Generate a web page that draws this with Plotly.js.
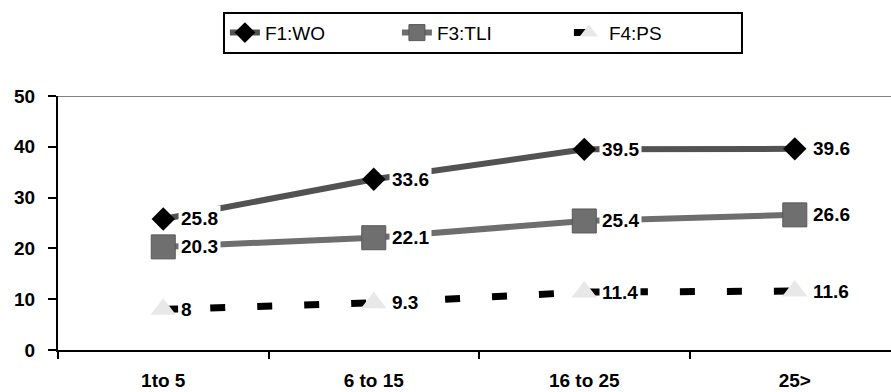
<!DOCTYPE html>
<html>
<head>
<meta charset="utf-8">
<script src="https://cdn.plot.ly/plotly-3.0.1.min.js"></script>
<style>
  html, body { margin: 0; padding: 0; background: #fff; }
  #chart { width: 891px; height: 392px; }
</style>
</head>
<body>
<div id="chart"></div>
<script>
// Age bands (years) on the category axis
const categories = ['1to 5', '6 to 15', '16 to 25', '25>'];

// Factor scores per age band
const seriesNames = ['F1:WO', 'F3:TLI', 'F4:PS'];
const wo  = [25.8, 33.6, 39.5, 39.6];
const tli = [20.3, 22.1, 25.4, 26.6];
const ps  = [8, 9.3, 11.4, 11.6];

const yTicks = [0, 10, 20, 30, 40, 50];

const traces = [
  {
    name: seriesNames[0], x: categories, y: wo, type: 'scatter', mode: 'lines+markers',
    line: { color: '#525252', width: 6 },
    marker: { symbol: 'diamond', size: 18, color: '#000', line: { width: 0 } }
  },
  {
    name: seriesNames[1], x: categories, y: tli, type: 'scatter', mode: 'lines+markers',
    line: { color: '#6e6e6e', width: 6 },
    marker: { symbol: 'square', size: 24, color: '#6f6f6f', line: { color: '#585858', width: 1 } }
  },
  {
    name: seriesNames[2], x: categories, y: ps, type: 'scatter', mode: 'lines+markers',
    line: { color: '#000', width: 7, dash: '15px,32px' },
    marker: { symbol: 'triangle-up', size: 22, color: '#e8e8e8', line: { width: 0 } }
  }
];

// Value labels sit right of each point on a white box, which hides the line behind them
const labelFont = { family: 'Liberation Sans, Arial, sans-serif', size: 19, color: '#000', weight: 'bold' };
const annotations = [];
[wo, tli, ps].forEach(vals => {
  vals.forEach((v, i) => {
    annotations.push({
      x: categories[i], y: v, xref: 'x', yref: 'y',
      text: '<b>' + v + '</b>', showarrow: false,
      xanchor: 'left', yanchor: 'middle', xshift: 15,
      bgcolor: '#fff', borderpad: 2, font: labelFont
    });
  });
});

const layout = {
  width: 891, height: 392,
  margin: { l: 58, r: 0, t: 96, b: 42 },
  paper_bgcolor: '#fff', plot_bgcolor: '#fff',
  showlegend: true,
  legend: {
    orientation: 'h', xref: 'container', yref: 'container',
    x: 0.542, xanchor: 'center', y: 0.97, yanchor: 'top',
    bordercolor: '#000', borderwidth: 2, bgcolor: '#fff',
    entrywidth: 127,
    font: { family: 'Liberation Sans, Arial, sans-serif', size: 19, color: '#000' }
  },
  xaxis: {
    type: 'category', range: [-0.5, 3.457],
    showgrid: false, zeroline: false,
    showline: true, linecolor: '#000', linewidth: 2,
    ticks: 'outside', tickson: 'boundaries', ticklen: 7, tickwidth: 2, tickcolor: '#000',
    ticklabelstandoff: 12,
    tickfont: { family: 'Liberation Sans, Arial, sans-serif', size: 19, color: '#000', weight: 'bold' }
  },
  yaxis: {
    range: [0, 50], tickvals: yTicks, ticktext: yTicks.map(String),
    showgrid: false, zeroline: false,
    showline: true, linecolor: '#000', linewidth: 2,
    ticks: 'outside', ticklen: 8, tickwidth: 2, tickcolor: '#000',
    ticklabelstandoff: 9,
    tickfont: { family: 'Liberation Sans, Arial, sans-serif', size: 19, color: '#000', weight: 'bold' }
  },
  // single grey rule along the top of the plot area
  shapes: [{
    type: 'line', xref: 'paper', yref: 'y', x0: 0, x1: 1, y0: yTicks[yTicks.length - 1], y1: yTicks[yTicks.length - 1],
    line: { color: '#808080', width: 2 }, layer: 'below'
  }],
  annotations: annotations
};

Plotly.newPlot('chart', traces, layout, { displayModeBar: false, staticPlot: true });
</script>
</body>
</html>
